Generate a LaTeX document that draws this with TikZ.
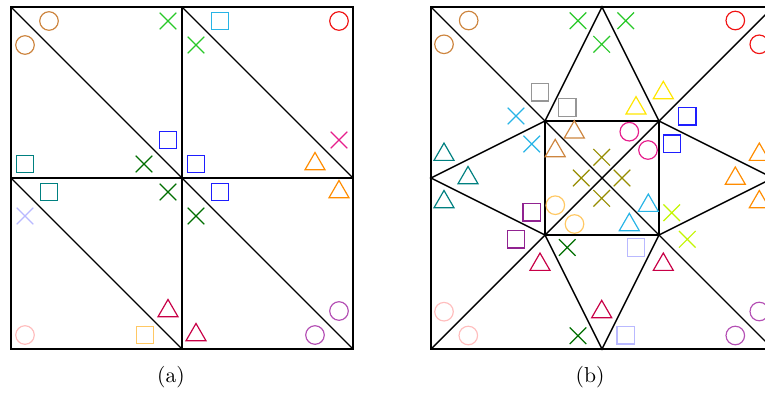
\documentclass[tikz,border=0pt]{standalone}
\usepackage{xcolor}
\usepackage{tikz}
\usetikzlibrary{shapes.geometric, shapes.misc}

\definecolor{brownc}{RGB}{205,133,63}
\definecolor{greenc}{RGB}{40,200,40}
\definecolor{dgreen}{RGB}{0,110,0}
\definecolor{bluec}{RGB}{30,30,255}
\definecolor{tealc}{RGB}{0,128,128}
\definecolor{skyc}{RGB}{40,180,230}
\definecolor{redc}{RGB}{240,20,20}
\definecolor{magc}{RGB}{230,30,140}
\definecolor{orangec}{RGB}{255,140,0}
\definecolor{lavc}{RGB}{185,185,255}
\definecolor{crimc}{RGB}{200,0,70}
\definecolor{lpink}{RGB}{255,190,190}
\definecolor{lorange}{RGB}{255,200,100}
\definecolor{orchidc}{RGB}{180,80,180}
\definecolor{grayc}{RGB}{150,150,150}
\definecolor{yellowc}{RGB}{255,230,0}
\definecolor{olivec}{RGB}{150,140,0}
\definecolor{purpc}{RGB}{145,35,145}
\definecolor{chartc}{RGB}{195,245,0}

\begin{document}
\begin{tikzpicture}[
  x=0.463pt, y=-0.463pt,
  mesh/.style={draw=black, line width=0.65pt},
  border/.style={draw=black, line width=0.85pt},
  mk/.style={draw=#1, line width=0.55pt, inner sep=0pt, outer sep=0pt},
  mcirc/.style={mk=#1, circle, minimum size=8.6pt},
  msq/.style={mk=#1, rectangle, minimum size=8.1pt},
  mtri/.style={mk=#1, regular polygon, regular polygon sides=3, minimum size=10.7pt},
  mcross/.style={mk=#1, cross out, minimum size=7.7pt},
  sublabel/.style={inner sep=0pt, font=\normalsize}
]
  \useasboundingbox (0,0) rectangle (765,401);
  \clip (0,0) rectangle (765,401);

  % (a)
  \coordinate (a00) at (11,7);
  \coordinate (a10) at (182,7);
  \coordinate (a20) at (353,7);
  \coordinate (a01) at (11,178);
  \coordinate (a11) at (182,178);
  \coordinate (a21) at (353,178);
  \coordinate (a02) at (11,349);
  \coordinate (a12) at (182,349);
  \coordinate (a22) at (353,349);

  \draw[mesh] (a10) -- (a12);
  \draw[mesh] (a01) -- (a21);
  \draw[mesh] (a00) -- (a11) -- (a22);
  \draw[mesh] (a10) -- (a21);
  \draw[mesh] (a01) -- (a12);
  \draw[border] (a00) rectangle (a22);

  \node[mcirc=brownc]   (ma1)  at (49,21) {};
  \node[mcross=greenc]  (ma2)  at (168,21) {};
  \node[msq=bluec]      (ma3)  at (168,140) {};
  \node[mcirc=brownc]   (ma4)  at (25,45) {};
  \node[msq=tealc]      (ma5)  at (25,164) {};
  \node[mcross=dgreen]  (ma6)  at (144,164) {};
  \node[msq=skyc]       (ma7)  at (220,21) {};
  \node[mcirc=redc]     (ma8)  at (339,21) {};
  \node[mcross=magc]    (ma9)  at (339,140) {};
  \node[mcross=greenc]  (ma10) at (196,45) {};
  \node[msq=bluec]      (ma11) at (196,164) {};
  \node[mtri=orangec]   (ma12) at (315,164) {};
  \node[msq=tealc]      (ma13) at (49,192) {};
  \node[mcross=dgreen]  (ma14) at (168,192) {};
  \node[mtri=crimc]     (ma15) at (168,311) {};
  \node[mcross=lavc]    (ma16) at (25,216) {};
  \node[mcirc=lpink]    (ma17) at (25,335) {};
  \node[msq=lorange]    (ma18) at (145,335) {};
  \node[msq=bluec]      (ma19) at (220,192) {};
  \node[mtri=orangec]   (ma20) at (339,192) {};
  \node[mcirc=orchidc]  (ma21) at (339,311) {};
  \node[mcross=dgreen]  (ma22) at (196,216) {};
  \node[mtri=crimc]     (ma23) at (196,335) {};
  \node[mcirc=orchidc]  (ma24) at (315,335) {};

  % (b)
  \coordinate (btl) at (431,7);
  \coordinate (btr) at (773,7);
  \coordinate (bbl) at (431,349);
  \coordinate (bbr) at (773,349);
  \coordinate (bt) at (602,7);
  \coordinate (bb) at (602,349);
  \coordinate (bl) at (431,178);
  \coordinate (br) at (773,178);
  \coordinate (itl) at (545,121);
  \coordinate (itr) at (659,121);
  \coordinate (ibl) at (545,235);
  \coordinate (ibr) at (659,235);

  \draw[mesh] (itl) rectangle (ibr);
  \draw[mesh] (btl) -- (itl) -- (ibr) -- (bbr);
  \draw[mesh] (btr) -- (itr) -- (ibl) -- (bbl);
  \draw[mesh] (itl) -- (bt) -- (itr);
  \draw[mesh] (itl) -- (bl) -- (ibl);
  \draw[mesh] (ibl) -- (bb) -- (ibr);
  \draw[mesh] (itr) -- (br) -- (ibr);
  \draw[border] (btl) rectangle (bbr);

  \node[mcirc=brownc]   (mb1)  at (468.7,20.5) {};
  \node[mcirc=brownc]   (mb2)  at (444,44.3) {};
  \node[mcirc=redc]     (mb3)  at (735.3,20.5) {};
  \node[mcirc=redc]     (mb4)  at (759.3,44.3) {};
  \node[mcirc=magc]     (mb5)  at (629.3,131.7) {};
  \node[mcirc=magc]     (mb6)  at (648,150) {};
  \node[mcirc=lorange]  (mb7)  at (555.3,205.2) {};
  \node[mcirc=lorange]  (mb8)  at (574.5,224) {};
  \node[mcirc=lpink]    (mb9)  at (444,311.7) {};
  \node[mcirc=lpink]    (mb10) at (468.3,335.5) {};
  \node[mcirc=orchidc]  (mb11) at (735.3,335.5) {};
  \node[mcirc=orchidc]  (mb12) at (759.3,311.5) {};

  \node[msq=grayc]      (mb13) at (540,92.3) {};
  \node[msq=grayc]      (mb14) at (567.3,107.5) {};
  \node[msq=bluec]      (mb15) at (687.3,116.3) {};
  \node[msq=bluec]      (mb16) at (672,143.7) {};
  \node[msq=purpc]      (mb17) at (531.7,212.3) {};
  \node[msq=purpc]      (mb18) at (516,239.3) {};
  \node[msq=lavc]       (mb19) at (636,247.5) {};
  \node[msq=lavc]       (mb20) at (625.7,335.3) {};

  \node[mtri=brownc]    (mb21) at (574.3,132.2) {};
  \node[mtri=brownc]    (mb22) at (555.2,150.9) {};
  \node[mtri=tealc]     (mb23) at (444,154.6) {};
  \node[mtri=tealc]     (mb24) at (468,178) {};
  \node[mtri=tealc]     (mb25) at (444,202) {};
  \node[mtri=yellowc]   (mb26) at (663.3,92.9) {};
  \node[mtri=yellowc]   (mb27) at (636,108.2) {};
  \node[mtri=orangec]   (mb28) at (759.3,154.6) {};
  \node[mtri=orangec]   (mb29) at (735.3,178.5) {};
  \node[mtri=orangec]   (mb30) at (759.3,202) {};
  \node[mtri=skyc]      (mb31) at (648.3,205.6) {};
  \node[mtri=skyc]      (mb32) at (629.3,224.9) {};
  \node[mtri=crimc]     (mb33) at (540,264.6) {};
  \node[mtri=crimc]     (mb34) at (663.3,264.6) {};
  \node[mtri=crimc]     (mb35) at (601.7,311.9) {};

  \node[mcross=greenc]  (mb36) at (578,20.7) {};
  \node[mcross=greenc]  (mb37) at (601.7,44.3) {};
  \node[mcross=greenc]  (mb38) at (625.7,20.7) {};
  \node[mcross=skyc]    (mb39) at (516,116) {};
  \node[mcross=skyc]    (mb40) at (531.7,144) {};
  \node[mcross=olivec]  (mb41) at (601.7,157.3) {};
  \node[mcross=olivec]  (mb42) at (581.3,178) {};
  \node[mcross=olivec]  (mb43) at (622,178) {};
  \node[mcross=olivec]  (mb44) at (601.7,198.3) {};
  \node[mcross=dgreen]  (mb45) at (567.3,247.5) {};
  \node[mcross=dgreen]  (mb46) at (578,335.7) {};
  \node[mcross=chartc]  (mb47) at (671.7,212.7) {};
  \node[mcross=chartc]  (mb48) at (687.3,239.3) {};

  \node[sublabel] (cap-a) at (171,377.5) {(a)};
  \node[sublabel] (cap-b) at (590,377.5) {(b)};
\end{tikzpicture}
\end{document}
